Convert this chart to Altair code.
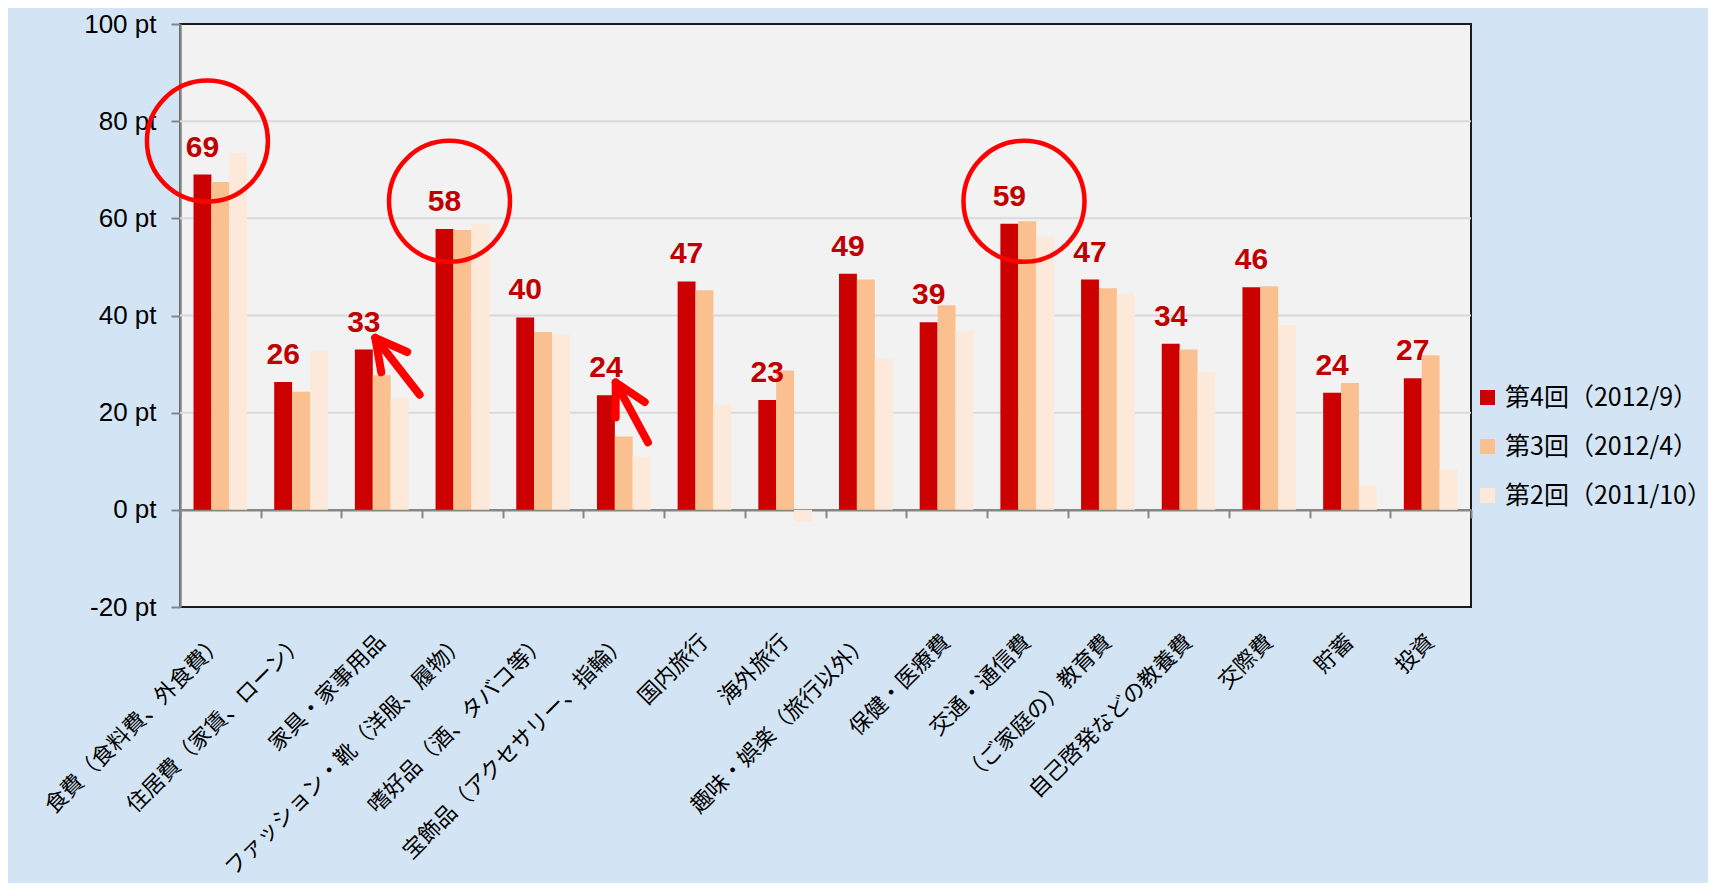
import altair as alt
import pandas as pd

categories = [
    "食費（食料費、外食費）", "住居費（家賃、ローン）", "家具・家事用品",
    "ファッション・靴（洋服、履物）", "嗜好品（酒、タバコ等）", "宝飾品（アクセサリー、指輪）",
    "国内旅行", "海外旅行", "趣味・娯楽（旅行以外）", "保健・医療費", "交通・通信費",
    "（ご家庭の）教育費", "自己啓発などの教養費", "交際費", "貯蓄", "投資",
]
series = ["第4回（2012/9）", "第3回（2012/4）", "第2回（2011/10）"]
round4 = [69.0, 26.3, 33.0, 57.8, 39.6, 23.6, 47.0, 22.6, 48.6, 38.6, 58.9, 47.4, 34.2, 45.8, 24.1, 27.1]
round3 = [67.5, 24.3, 27.7, 57.6, 36.6, 15.1, 45.2, 28.7, 47.4, 42.1, 59.4, 45.6, 33.0, 46.0, 26.1, 31.8]
round2 = [73.5, 32.7, 23.0, 59.0, 36.1, 11.0, 21.7, -2.4, 31.0, 36.8, 56.2, 44.5, 28.2, 38.0, 5.0, 8.2]
colors = ["#cc0000", "#fac090", "#fde9d9"]
y_ticks = [-20, 0, 20, 40, 60, 80, 100]
grid_values = [20, 40, 60, 80]

# annotation positions in (category index, pt) units
circle_idx = [0.34, 3.34, 10.46]
circle_val = [75.9, 63.5, 63.5]
arrow_tail_idx = [2.97, 5.80]
arrow_tail_val = [23.7, 13.9]
arrow_tip_idx = [2.42, 5.40]
arrow_tip_val = [35.4, 26.2]
arrow_angle = [322, 332]

W, H = 1291, 583

rows = []
for i, c in enumerate(categories):
    for s, vals in zip(series, [round4, round3, round2]):
        rows.append({"cat": c, "series": s, "value": vals[i]})
df = pd.DataFrame(rows)

y_scale = alt.Scale(domain=[y_ticks[0], y_ticks[-1]], nice=False, zero=False)
y_axis = alt.Axis(
    title=None, values=y_ticks, labelExpr="datum.value + ' pt'",
    labelFont="Liberation Sans", labelFontSize=26, labelColor="#000000",
    labelPadding=15, tickSize=9, tickColor="#868686", tickWidth=2,
    domainColor="#868686", domainWidth=2.5, grid=False,
)


def Y(field):
    return alt.Y(field, scale=y_scale, axis=y_axis)


x_band = alt.X(
    "cat:N", sort=categories,
    scale=alt.Scale(paddingInner=0.335, paddingOuter=0.1675),
    axis=alt.Axis(
        title=None, labelAngle=-45, labelAlign="right", labelBaseline="middle",
        labelFont="Noto Sans CJK JP", labelFontSize=22, labelColor="#000000",
        labelPadding=31, ticks=False, tickSize=0, domain=False, labelLimit=500,
        labelOverlap=False,
    ),
)
x_off = alt.XOffset("series:N", sort=series,
                    scale=alt.Scale(domain=series, paddingInner=0, paddingOuter=0))

base = alt.Chart(df)

grid = alt.Chart(pd.DataFrame({"g": grid_values})).mark_rule(
    color="#d9d9d9", strokeWidth=2
).encode(y=Y("g:Q"))

bars = base.mark_bar().encode(
    x=x_band,
    xOffset=x_off,
    y=Y("value:Q"),
    y2=alt.datum(0),
    color=alt.Color(
        "series:N", sort=series,
        scale=alt.Scale(domain=series, range=colors),
        legend=alt.Legend(
            title=None, orient="none", legendX=1295, legendY=361,
            labelFont="Noto Sans CJK JP", labelFontSize=25, labelColor="#000000",
            symbolType="square", symbolSize=225, symbolStrokeWidth=0,
            labelOffset=5, padding=0, rowPadding=23, labelLimit=400,
        ),
    ),
)

labels = base.transform_filter(
    alt.datum.series == series[0]
).mark_text(
    font="Liberation Sans", fontWeight="bold", fontSize=30, color="#c00000",
    baseline="alphabetic", dy=-18,
).encode(
    x=x_band,
    xOffset=x_off,
    y=Y("value:Q"),
    text=alt.Text("value:Q", format=".0f"),
)

main = alt.layer(grid, bars, labels)

n = len(categories)
x_ann_scale = alt.Scale(domain=[0, n], nice=False, zero=False)
x_ann_axis = alt.Axis(
    orient="bottom", offset=-(0 - y_ticks[0]) * H / (y_ticks[-1] - y_ticks[0]),
    values=list(range(n + 1)), labels=False, ticks=True, tickSize=8,
    tickColor="#868686", tickWidth=2, domain=True, domainColor="#868686",
    domainWidth=2.5, grid=False, title=None,
)


def XA(field):
    return alt.X(field, scale=x_ann_scale, axis=x_ann_axis)


circles = alt.Chart(pd.DataFrame({"i": circle_idx, "v": circle_val})).mark_point(
    shape="circle", filled=False, size=14641, color="#ff0000", strokeWidth=4.5, opacity=1
).encode(x=XA("i:Q"), y=Y("v:Q"))

arrows = pd.DataFrame({
    "ti": arrow_tail_idx, "tv": arrow_tail_val,
    "hi": arrow_tip_idx, "hv": arrow_tip_val, "ang": arrow_angle,
})
shafts = alt.Chart(arrows).mark_rule(
    color="#ff0000", strokeWidth=8, strokeCap="round"
).encode(x=XA("ti:Q"), x2="hi:Q", y=Y("tv:Q"), y2="hv:Q")

heads = alt.Chart(arrows).mark_point(
    shape="M-0.47,0.88L0,0L0.47,0.88", filled=False, size=4900, color="#ff0000",
    strokeWidth=8, strokeCap="round", strokeJoin="round", opacity=1,
).encode(x=XA("hi:Q"), y=Y("hv:Q"), angle=alt.Angle("ang:Q", scale=None))

annot = alt.layer(circles, shafts, heads)

chart = alt.layer(main, annot).resolve_scale(x="independent").properties(
    width=W, height=H,
    autosize=alt.AutoSizeParams(type="none"),
    padding={"left": 172, "top": 16, "right": 237, "bottom": 276},
    background="#d3e5f4",
).configure_view(
    fill="#f2f2f2", stroke="#1a1a1a", strokeWidth=2
)

chart.save("out.html", embed_options={"renderer": "svg", "actions": False})
